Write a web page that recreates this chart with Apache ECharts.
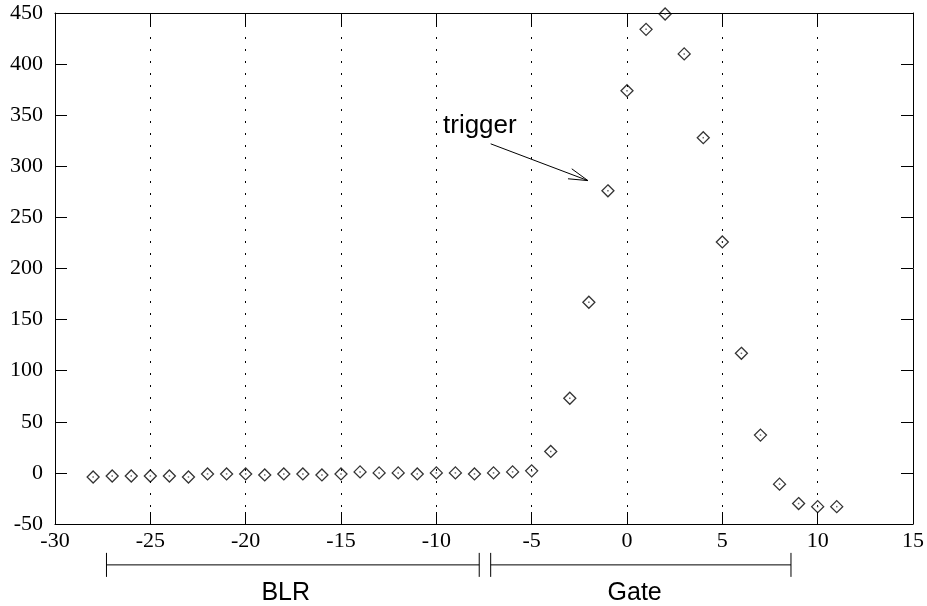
<!DOCTYPE html>
<html>
<head>
<meta charset="utf-8">
<script src="https://cdn.jsdelivr.net/npm/echarts@6/dist/echarts.min.js"></script>
<style>
  html, body { margin: 0; padding: 0; background: #fff; }
  #chart { width: 927px; height: 606px; }
</style>
</head>
<body>
<div id="chart"></div>
<script>
// sample index relative to trigger, and measured value
const samples = [-28, -27, -26, -25, -24, -23, -22, -21, -20, -19, -18, -17, -16, -15,
    -14, -13, -12, -11, -10, -9, -8, -7, -6, -5, -4, -3, -2, -1, 0, 1, 2, 3, 4, 5, 6, 7, 8, 9, 10, 11];
const values = [-4, -3, -3, -3, -3, -4, -1, -1, -1, -2, -1, -1, -2, -1,
    1, 0, 0, -1, 0, 0, -1, 0, 1, 2, 21, 73, 167, 276, 374, 434, 449, 410, 328, 226, 117, 37, -11, -30, -33, -33];

// annotation spans / points (data units)
const blrSpan = [-27.3, -7.75];
const gateSpan = [-7.15, 8.6];
const spanLabels = [['BLR', -17.9], ['Gate', 0.4]];
const arrowFrom = [-7.15, 322];
const arrowTo = [-2.05, 286];
const triggerLabel = ['trigger', -9.65, 340];

const points = samples.map((x, i) => [x, values[i]]);

const chart = echarts.init(document.getElementById('chart'));

function renderNotes(params, api) {
    const kids = [];
    const stroke = { stroke: '#000', lineWidth: 1 };
    const bracketY = -90;
    [blrSpan, gateSpan].forEach(span => {
        const a = api.coord([span[0], bracketY]);
        const b = api.coord([span[1], bracketY]);
        kids.push({ type: 'line', shape: { x1: a[0], y1: a[1], x2: b[0], y2: b[1] }, style: stroke });
        [a, b].forEach(p => {
            kids.push({ type: 'line', shape: { x1: p[0], y1: p[1] - 12, x2: p[0], y2: p[1] + 12 }, style: stroke });
        });
    });
    spanLabels.forEach(l => {
        const p = api.coord([l[1], -118]);
        kids.push({ type: 'text', x: p[0], y: p[1], style: {
            text: l[0], fill: '#000', font: '25px "Liberation Sans", Arial, sans-serif',
            align: 'center', verticalAlign: 'middle' } });
    });
    // arrow with open head
    const s = api.coord(arrowFrom), e = api.coord(arrowTo);
    kids.push({ type: 'line', shape: { x1: s[0], y1: s[1], x2: e[0], y2: e[1] }, style: stroke });
    const ang = Math.atan2(e[1] - s[1], e[0] - s[0]);
    [-0.27, 0.27].forEach(d => {
        kids.push({ type: 'line', shape: {
            x1: e[0], y1: e[1],
            x2: e[0] - 20 * Math.cos(ang + d), y2: e[1] - 20 * Math.sin(ang + d) }, style: stroke });
    });
    const t = api.coord([triggerLabel[1], triggerLabel[2]]);
    kids.push({ type: 'text', x: t[0], y: t[1], style: {
        text: triggerLabel[0], fill: '#000', font: '26px "Liberation Sans", Arial, sans-serif',
        align: 'left', verticalAlign: 'middle' } });
    return { type: 'group', children: kids };
}

const serif = '"Liberation Serif", "Times New Roman", serif';
const axisLine = { show: true, onZero: false, lineStyle: { color: '#000', width: 1 } };
const ticks = { show: true, inside: true, length: 12, lineStyle: { color: '#000', width: 1 } };

chart.setOption({
    animation: false,
    backgroundColor: '#fff',
    grid: { left: 55, right: 14, top: 13, bottom: 82 },
    xAxis: [{
        type: 'value', min: -30, max: 15, interval: 5, position: 'bottom',
        axisLine: axisLine, axisTick: ticks,
        axisLabel: { color: '#000', fontFamily: serif, fontSize: 22, margin: 6 },
        splitLine: { show: true, lineStyle: { color: '#000', width: 1, type: [2, 10] } }
    }, {
        type: 'value', min: -30, max: 15, interval: 5, position: 'top',
        axisLine: axisLine, axisTick: ticks, axisLabel: { show: false }, splitLine: { show: false }
    }],
    yAxis: [{
        type: 'value', min: -50, max: 450, interval: 50, position: 'left',
        axisLine: axisLine, axisTick: ticks,
        axisLabel: { color: '#000', fontFamily: serif, fontSize: 22, margin: 12 },
        splitLine: { show: false }
    }, {
        type: 'value', min: -50, max: 450, interval: 50, position: 'right',
        axisLine: axisLine, axisTick: ticks, axisLabel: { show: false }, splitLine: { show: false }
    }],
    series: [{
        type: 'scatter', data: points, symbol: 'diamond', symbolSize: 12,
        itemStyle: { color: 'transparent', borderColor: '#000', borderWidth: 1.3 },
        emphasis: { disabled: true }, silent: true
    }, {
        type: 'scatter', data: points, symbol: 'rect', symbolSize: 1.5,
        itemStyle: { color: '#444' }, silent: true
    }, {
        type: 'custom', data: [[0, 0]], renderItem: renderNotes, clip: false, silent: true
    }]
});
</script>
</body>
</html>
